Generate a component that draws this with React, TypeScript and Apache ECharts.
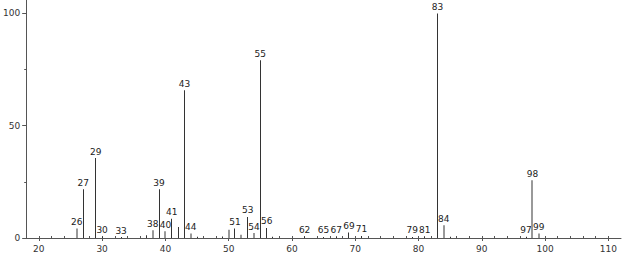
import React, { useEffect, useRef } from "react";
import * as echarts from "echarts";

const peakMz = [26, 27, 29, 30, 33, 37, 38, 39, 40, 41, 42, 43, 44, 45, 49, 50, 51, 52, 53, 54, 55, 56, 57, 62, 65, 67, 69, 71, 79, 81, 83, 84, 85, 97, 98, 99];
const peakIntensity = [4.2, 21.7, 35.6, 0.6, 0.4, 1.2, 3.4, 21.7, 3.0, 8.6, 4.9, 65.8, 2.0, 0.6, 0.7, 3.7, 4.2, 1.5, 9.4, 2.2, 79.2, 4.5, 0.6, 0.6, 0.5, 0.8, 2.4, 0.9, 0.5, 0.8, 100, 5.7, 0.6, 0.6, 25.7, 2.0];
const labeledMz = [26, 27, 29, 30, 33, 38, 39, 40, 41, 43, 44, 51, 53, 54, 55, 56, 62, 65, 67, 69, 71, 79, 81, 83, 84, 97, 98, 99];
const lightMz = [26, 38, 40, 44, 50, 52, 54, 84, 98, 99];
const xTickValues = [20, 30, 40, 50, 60, 70, 80, 90, 100, 110];
const yTickValues = [0, 50, 100];
const yMinorTickValues = [25, 75];

const FONT = "DejaVu Sans";

export default function App() {
  const ref = useRef<HTMLDivElement>(null);
  useEffect(() => {
    document.body.style.margin = "0";
    const chart = echarts.init(ref.current!, null, { renderer: "svg" });
    const xMinor: number[] = [];
    for (let v = 20; v <= 110; v += 2) xMinor.push(v);
    const data = peakMz.map((m, i) => [m, peakIntensity[i]]);
    chart.setOption({
      animation: false,
      grid: { left: 25, right: 2, top: 0, bottom: 16, containLabel: false },
      xAxis: [
        {
          type: "value",
          min: 18,
          max: 112,
          position: "bottom",
          axisLine: { show: true, onZero: false, lineStyle: { color: "#555", width: 1 } },
          splitLine: { show: false },
          axisTick: { show: true, customValues: xTickValues, length: 3, lineStyle: { color: "#555" } },
          axisLabel: { customValues: xTickValues, fontSize: 9, color: "#333", margin: 6, fontFamily: FONT },
        },
        {
          type: "value",
          min: 18,
          max: 112,
          position: "bottom",
          axisLine: { show: false, onZero: false },
          splitLine: { show: false },
          axisTick: { show: true, inside: true, customValues: xMinor, length: 2, lineStyle: { color: "#555" } },
          axisLabel: { show: false },
        },
      ],
      yAxis: [
        {
          type: "value",
          min: 0,
          max: 106,
          position: "left",
          axisLine: { show: true, lineStyle: { color: "#555", width: 1 } },
          splitLine: { show: false },
          axisTick: { show: true, customValues: yTickValues, length: 4, lineStyle: { color: "#555" } },
          axisLabel: { customValues: yTickValues, fontSize: 9, color: "#333", margin: 6, fontFamily: FONT },
        },
        {
          type: "value",
          min: 0,
          max: 106,
          position: "left",
          axisLine: { show: false },
          splitLine: { show: false },
          axisTick: { show: true, customValues: yMinorTickValues, length: 2, lineStyle: { color: "#555" } },
          axisLabel: { show: false },
        },
      ],
      series: [
        {
          type: "custom",
          xAxisIndex: 0,
          yAxisIndex: 0,
          clip: false,
          data,
          renderItem: (params: any, api: any) => {
            const m = api.value(0);
            const v = api.value(1);
            const base = api.coord([m, 0]);
            const top = api.coord([m, v]);
            const light = lightMz.includes(m);
            const w = light ? 2 : 1;
            const x0 = light ? Math.round(base[0]) - 1 : Math.floor(base[0]);
            const children: any[] = [
              {
                type: "rect",
                shape: { x: x0, y: top[1], width: w, height: base[1] - top[1] },
                style: { fill: light ? "#999" : "#333" },
              },
            ];
            if (labeledMz.includes(m)) {
              children.push({
                type: "text",
                x: top[0],
                y: top[1] - 2,
                style: {
                  text: String(m),
                  fill: "#222",
                  font: `9px "${FONT}"`,
                  align: "center",
                  verticalAlign: "bottom",
                },
              });
            }
            return { type: "group", children };
          },
        },
      ],
    });
    return () => chart.dispose();
  }, []);
  return <div ref={ref} style={{ width: 623, height: 254 }} />;
}
